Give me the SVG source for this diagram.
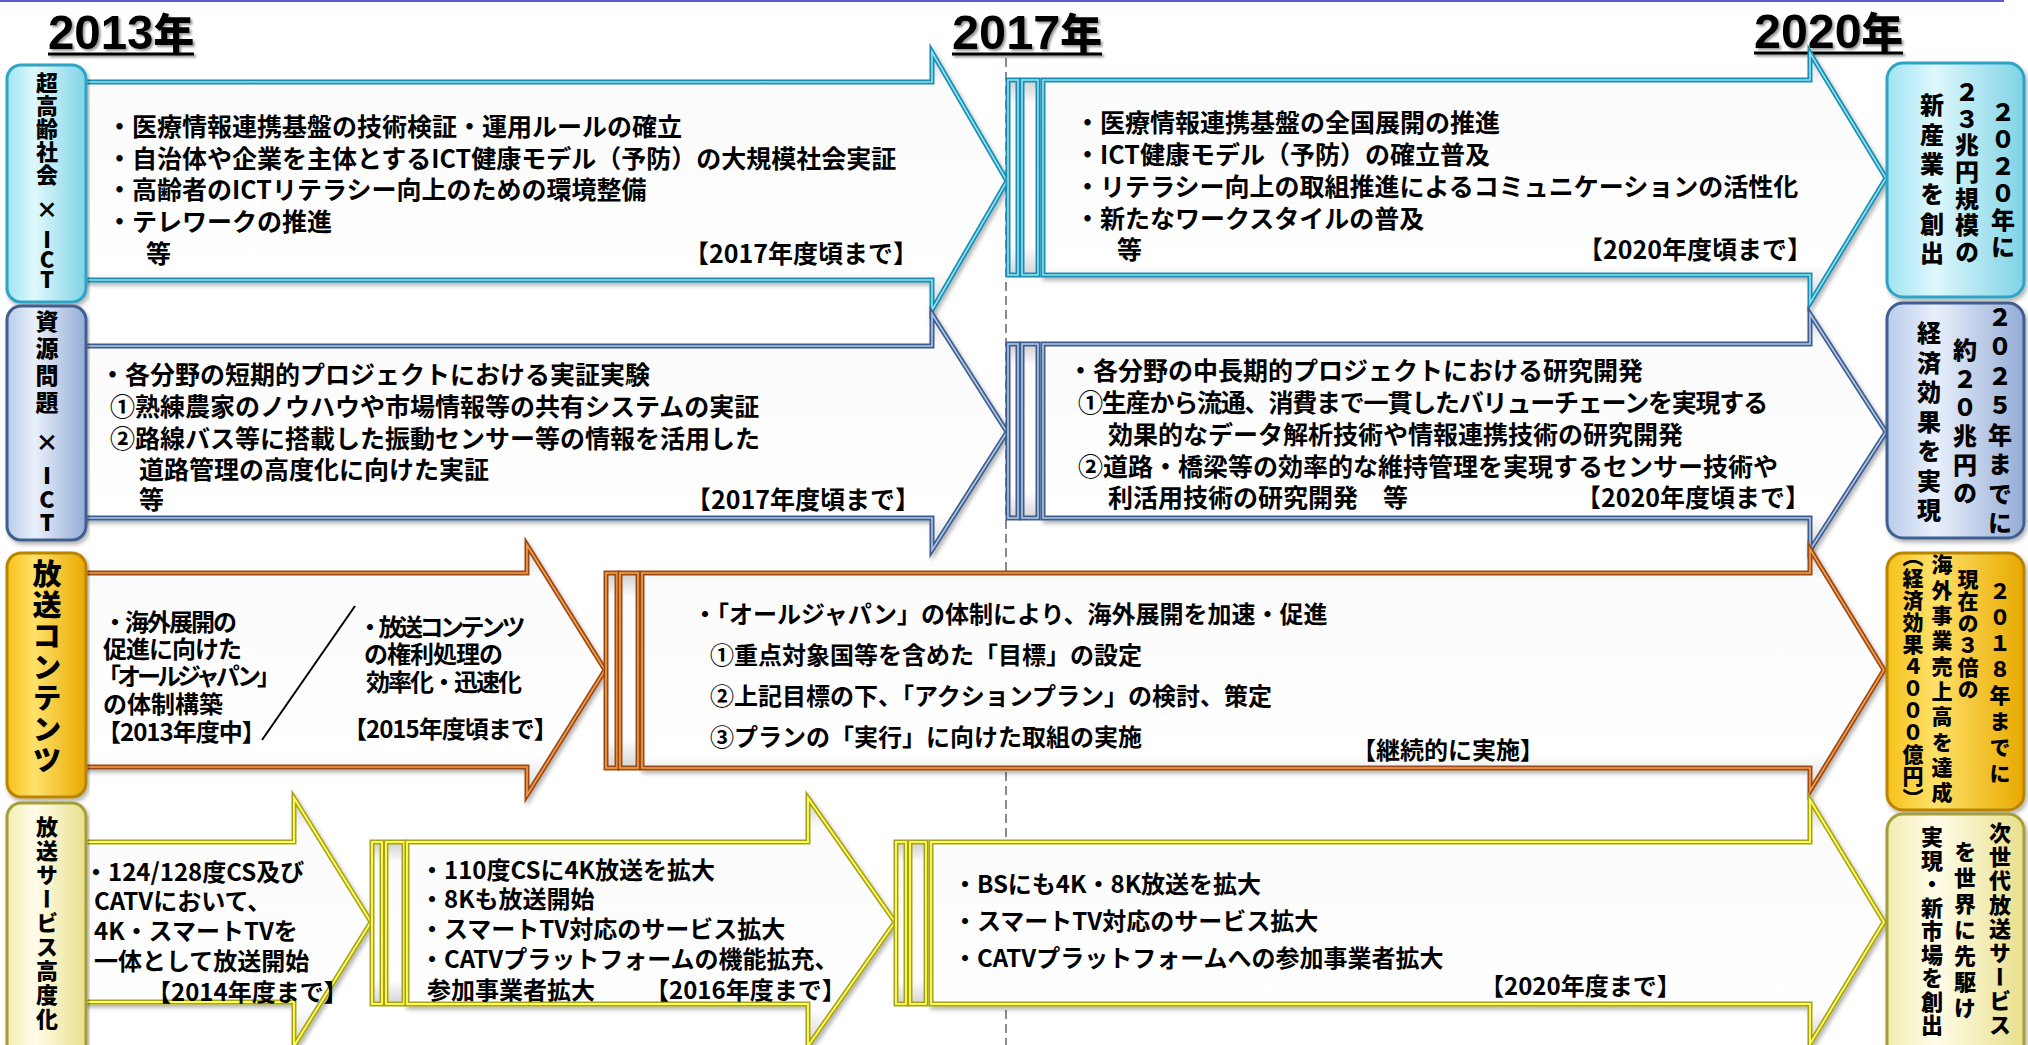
<svg xmlns="http://www.w3.org/2000/svg" width="2028" height="1045" viewBox="0 0 2028 1045">
<defs>
<style>
.t{font-family:"Noto Sans CJK JP","Noto Sans CJK SC",sans-serif;font-weight:700;fill:#000;dominant-baseline:central;}
.e{text-anchor:end;}
.v{font-family:"Noto Sans CJK JP","Noto Sans CJK SC",sans-serif;font-weight:900;fill:#000;writing-mode:vertical-rl;text-orientation:upright;}
.yr{font-family:"Liberation Sans","Noto Sans CJK JP",sans-serif;font-weight:700;font-size:49px;fill:#000;}
.yk{font-family:"Noto Sans CJK JP","Noto Sans CJK SC",sans-serif;font-weight:900;font-size:42px;}
.ul{stroke:#000;stroke-width:3;}
.body{fill:url(#gBody);}
.c1o{stroke:#1b8db2;stroke-width:5;}
.c1i{fill:none;stroke:#8ee3f4;stroke-width:1.6;}
.c2o{stroke:#3d5d8e;stroke-width:5;}
.c2i{fill:none;stroke:#b3c7e6;stroke-width:1.6;}
.c3o{stroke:#9b4a14;stroke-width:5;}
.c3i{fill:none;stroke:#f5a04c;stroke-width:1.6;}
.c4o{stroke:#a7a21c;stroke-width:5;}
.c4i{fill:none;stroke:#ffff59;stroke-width:1.8;}
.b1{fill:url(#g1);stroke:#2ea3c4;stroke-width:3;}
.b2{fill:url(#g2);stroke:#3f5f90;stroke-width:3;}
.b3{fill:url(#g3);stroke:#b98400;stroke-width:3;}
.b4{fill:url(#g4);stroke:#a59e3a;stroke-width:3;}
</style>
<linearGradient id="gBody" x1="0" y1="0" x2="0" y2="1">
<stop offset="0" stop-color="#cfcfcf"/><stop offset="0.12" stop-color="#fbfbfb"/><stop offset="0.85" stop-color="#ffffff"/><stop offset="1" stop-color="#d4d4d4"/>
</linearGradient>
<linearGradient id="g1" x1="0" y1="0" x2="1" y2="0">
<stop offset="0" stop-color="#9fe4f2"/><stop offset="0.35" stop-color="#dff8fc"/><stop offset="1" stop-color="#7fd3e6"/>
</linearGradient>
<linearGradient id="g2" x1="0" y1="0" x2="1" y2="0">
<stop offset="0" stop-color="#b9cceb"/><stop offset="0.35" stop-color="#e9f0fb"/><stop offset="1" stop-color="#94acd6"/>
</linearGradient>
<linearGradient id="g3" x1="0" y1="0" x2="1" y2="0">
<stop offset="0" stop-color="#f7c21a"/><stop offset="0.35" stop-color="#ffe16a"/><stop offset="1" stop-color="#e8a900"/>
</linearGradient>
<linearGradient id="g4" x1="0" y1="0" x2="1" y2="0">
<stop offset="0" stop-color="#f3ecb0"/><stop offset="0.35" stop-color="#fffdea"/><stop offset="1" stop-color="#e9df8c"/>
</linearGradient>
<filter id="sh" x="-5%" y="-5%" width="110%" height="115%">
<feDropShadow dx="2" dy="3" stdDeviation="2" flood-color="#000" flood-opacity="0.3"/>
</filter>
<filter id="tsh" x="-5%" y="-10%" width="110%" height="130%">
<feDropShadow dx="2" dy="2" stdDeviation="1" flood-color="#000" flood-opacity="0.4"/>
</filter>
</defs>

<rect x="0" y="0" width="2028" height="1045" fill="#ffffff"/>

<g id="guides">
<line x1="0" y1="1" x2="2004" y2="1" stroke="#5b5bd6" stroke-width="2"/>
<line x1="1006" y1="58" x2="1006" y2="1045" stroke="#8a8a8a" stroke-width="2" stroke-dasharray="9,5"/>
</g>

<g id="years" filter="url(#tsh)">
<text class="yr" x="48" y="49" textLength="146" lengthAdjust="spacingAndGlyphs">2013<tspan class="yk">年</tspan></text>
<line class="ul" x1="48" y1="54" x2="194" y2="54"/>
<text class="yr" x="952" y="49" textLength="150" lengthAdjust="spacingAndGlyphs">2017<tspan class="yk">年</tspan></text>
<line class="ul" x1="952" y1="54" x2="1102" y2="54"/>
<text class="yr" x="1754" y="48" textLength="149" lengthAdjust="spacingAndGlyphs">2020<tspan class="yk">年</tspan></text>
<line class="ul" x1="1754" y1="53" x2="1903" y2="53"/>
</g>

<!-- Row 1 -->
<g id="arrow-1a">
<path class="body c1o" filter="url(#sh)" d="M60,82 H932 V52 L1007,181 L932,310 V280 H60 Z"/>
<path class="c1i" d="M60,82 H932 V52 L1007,181 L932,310 V280 H60 Z"/>
<text class="t" font-size="25">
<tspan x="107" y="125">・医療情報連携基盤の技術検証・運用ルールの確立</tspan>
<tspan x="107" y="157">・自治体や企業を主体とするICT健康モデル（予防）の大規模社会実証</tspan>
<tspan x="107" y="188">・高齢者のICTリテラシー向上のための環境整備</tspan>
<tspan x="107" y="220">・テレワークの推進</tspan>
<tspan x="146" y="252">等</tspan>
<tspan class="e" x="918" y="252">【2017年度頃まで】</tspan>
</text>
</g>
<g id="arrow-1b">
<rect class="body c1o" x="1008" y="80" width="10" height="195"/>
<rect class="c1i" x="1008" y="80" width="10" height="195"/>
<rect class="body c1o" x="1022" y="80" width="16" height="195"/>
<rect class="c1i" x="1022" y="80" width="16" height="195"/>
<path class="body c1o" filter="url(#sh)" d="M1043,80 H1810 V53 L1886,178 L1810,303 V275 H1043 Z"/>
<path class="c1i" d="M1043,80 H1810 V53 L1886,178 L1810,303 V275 H1043 Z"/>
<text class="t" font-size="25">
<tspan x="1075" y="121">・医療情報連携基盤の全国展開の推進</tspan>
<tspan x="1075" y="153">・ICT健康モデル（予防）の確立普及</tspan>
<tspan x="1075" y="185">・リテラシー向上の取組推進によるコミュニケーションの活性化</tspan>
<tspan x="1075" y="217">・新たなワークスタイルの普及</tspan>
<tspan x="1117" y="248">等</tspan>
<tspan class="e" x="1812" y="248">【2020年度頃まで】</tspan>
</text>
</g>
<g id="label-1">
<rect class="b1" filter="url(#sh)" x="7" y="65" width="79" height="237" rx="14"/>
<text class="v" x="47" font-size="22"><tspan y="72" style="letter-spacing:1px">超高齢社会</tspan><tspan y="199">×</tspan><tspan y="229" style="letter-spacing:-2px">ICT</tspan></text>
</g>
<g id="result-1">
<rect class="b1" filter="url(#sh)" x="1887" y="63" width="137" height="234" rx="16"/>
<g class="v" font-size="24">
<text x="2003" y="100" style="letter-spacing:3px">２０２０年に</text>
<text x="1967" y="80" style="letter-spacing:2.6px">２３兆円規模の</text>
<text x="1932" y="93" style="letter-spacing:5.6px">新産業を創出</text>
</g>
</g>

<!-- Row 2 -->
<g id="arrow-2a">
<path class="body c2o" filter="url(#sh)" d="M60,346 H932 V314 L1007,432 L932,550 V518 H60 Z"/>
<path class="c2i" d="M60,346 H932 V314 L1007,432 L932,550 V518 H60 Z"/>
<text class="t" font-size="25">
<tspan x="100" y="373">・各分野の短期的プロジェクトにおける実証実験</tspan>
<tspan x="110" y="405">①熟練農家のノウハウや市場情報等の共有システムの実証</tspan>
<tspan x="110" y="437">②路線バス等に搭載した振動センサー等の情報を活用した</tspan>
<tspan x="139" y="468">道路管理の高度化に向けた実証</tspan>
<tspan x="139" y="498">等</tspan>
<tspan class="e" x="920" y="498">【2017年度頃まで】</tspan>
</text>
</g>
<g id="arrow-2b">
<rect class="body c2o" x="1008" y="344" width="10" height="174"/>
<rect class="c2i" x="1008" y="344" width="10" height="174"/>
<rect class="body c2o" x="1022" y="344" width="16" height="174"/>
<rect class="c2i" x="1022" y="344" width="16" height="174"/>
<path class="body c2o" filter="url(#sh)" d="M1043,344 H1810 V314 L1886,432 L1810,550 V518 H1043 Z"/>
<path class="c2i" d="M1043,344 H1810 V314 L1886,432 L1810,550 V518 H1043 Z"/>
<text class="t" font-size="25">
<tspan x="1068" y="369">・各分野の中長期的プロジェクトにおける研究開発</tspan>
<tspan x="1078" y="401" style="letter-spacing:-1.2px">①生産から流通、消費まで一貫したバリューチェーンを実現する</tspan>
<tspan x="1108" y="433">効果的なデータ解析技術や情報連携技術の研究開発</tspan>
<tspan x="1078" y="465">②道路・橋梁等の効率的な維持管理を実現するセンサー技術や</tspan>
<tspan x="1108" y="496">利活用技術の研究開発　等</tspan>
<tspan class="e" x="1810" y="496">【2020年度頃まで】</tspan>
</text>
</g>
<g id="label-2">
<rect class="b2" filter="url(#sh)" x="7" y="306" width="79" height="234" rx="14"/>
<text class="v" x="47" font-size="23"><tspan y="310" style="letter-spacing:4px">資源問題</tspan><tspan y="431">×</tspan><tspan y="464" style="letter-spacing:0.5px">ICT</tspan></text>
</g>
<g id="result-2">
<rect class="b2" filter="url(#sh)" x="1887" y="303" width="137" height="235" rx="16"/>
<g class="v" font-size="24">
<text x="2000" y="305" style="letter-spacing:5.4px">２０２５年までに</text>
<text x="1965" y="338" style="letter-spacing:4.6px">約２０兆円の</text>
<text x="1929" y="321" style="letter-spacing:5.5px">経済効果を実現</text>
</g>
</g>

<!-- Row 3 -->
<g id="arrow-3a">
<path class="body c3o" filter="url(#sh)" d="M60,573 H527 V545 L605,670 L527,795 V767 H60 Z"/>
<path class="c3i" d="M60,573 H527 V545 L605,670 L527,795 V767 H60 Z"/>
<line x1="355" y1="606" x2="262" y2="740" stroke="#000" stroke-width="2"/>
<text class="t" font-size="24">
<tspan x="103" y="620" style="letter-spacing:-2px">・海外展開の</tspan>
<tspan x="103" y="647" style="letter-spacing:-1px">促進に向けた</tspan>
<tspan x="97" y="674" style="letter-spacing:-4px">「オールジャパン」</tspan>
<tspan x="103" y="702">の体制構築</tspan>
<tspan x="97" y="730" style="letter-spacing:-1px">【2013年度中】</tspan>
<tspan x="358" y="625" style="letter-spacing:-3.5px">・放送コンテンツ</tspan>
<tspan x="364" y="652" style="letter-spacing:-1px">の権利処理の</tspan>
<tspan x="366" y="680" style="letter-spacing:-2px">効率化・迅速化</tspan>
<tspan x="343" y="727" style="letter-spacing:-1px">【2015年度頃まで】</tspan>
</text>
</g>
<g id="arrow-3b">
<rect class="body c3o" x="606" y="573" width="11" height="195"/>
<rect class="c3i" x="606" y="573" width="11" height="195"/>
<rect class="body c3o" x="620" y="573" width="18" height="195"/>
<rect class="c3i" x="620" y="573" width="18" height="195"/>
<path class="body c3o" filter="url(#sh)" d="M642,573 H1810 V549 L1884,670 L1810,791 V768 H642 Z"/>
<path class="c3i" d="M642,573 H1810 V549 L1884,670 L1810,791 V768 H642 Z"/>
<text class="t" font-size="24">
<tspan x="693" y="612">・「オールジャパン」の体制により、海外展開を加速・促進</tspan>
<tspan x="710" y="653">①重点対象国等を含めた「目標」の設定</tspan>
<tspan x="710" y="694">②上記目標の下、「アクションプラン」の検討、策定</tspan>
<tspan x="710" y="735">③プランの「実行」に向けた取組の実施</tspan>
<tspan x="1352" y="748">【継続的に実施】</tspan>
</text>
</g>
<g id="label-3">
<rect class="b3" filter="url(#sh)" x="7" y="553" width="79" height="244" rx="14"/>
<text class="v" x="47" y="559" font-size="29" style="letter-spacing:2px">放送コンテンツ</text>
</g>
<g id="result-3">
<rect class="b3" filter="url(#sh)" x="1887" y="553" width="137" height="257" rx="16"/>
<g class="v" font-size="21">
<text x="2000" y="581" style="letter-spacing:5px">２０１８年までに</text>
<text x="1968" y="569" style="letter-spacing:1px">現在の３倍の</text>
<text x="1942" y="554" style="letter-spacing:4.3px">海外事業売上高を達成</text>
<text x="1913" y="546" style="letter-spacing:1px">（経済効果４０００億円）</text>
</g>
</g>

<!-- Row 4 -->
<g id="arrow-4a">
<path class="body c4o" filter="url(#sh)" d="M60,842 H294 V798 L371,922 L294,1046 V1002 H60 Z"/>
<path class="c4i" d="M60,842 H294 V798 L371,922 L294,1046 V1002 H60 Z"/>
<text class="t" font-size="24">
<tspan x="84" y="870">・124/128度CS及び</tspan>
<tspan x="94" y="899">CATVにおいて、</tspan>
<tspan x="94" y="929">4K・スマートTVを</tspan>
<tspan x="94" y="959">一体として放送開始</tspan>
<tspan x="147" y="990">【2014年度まで】</tspan>
</text>
</g>
<g id="arrow-4b">
<rect class="body c4o" x="372" y="842" width="10" height="162"/>
<rect class="c4i" x="372" y="842" width="10" height="162"/>
<rect class="body c4o" x="386" y="842" width="18" height="162"/>
<rect class="c4i" x="386" y="842" width="18" height="162"/>
<path class="body c4o" filter="url(#sh)" d="M407,842 H808 V798 L895,922 L808,1046 V1004 H407 Z"/>
<path class="c4i" d="M407,842 H808 V798 L895,922 L808,1046 V1004 H407 Z"/>
<text class="t" font-size="24">
<tspan x="420" y="868">・110度CSに4K放送を拡大</tspan>
<tspan x="420" y="897">・8Kも放送開始</tspan>
<tspan x="420" y="927">・スマートTV対応のサービス拡大</tspan>
<tspan x="420" y="957">・CATVプラットフォームの機能拡充、</tspan>
<tspan x="427" y="988">参加事業者拡大</tspan>
<tspan x="645" y="988">【2016年度まで】</tspan>
</text>
</g>
<g id="arrow-4c">
<rect class="body c4o" x="896" y="842" width="10" height="162"/>
<rect class="c4i" x="896" y="842" width="10" height="162"/>
<rect class="body c4o" x="910" y="842" width="16" height="162"/>
<rect class="c4i" x="910" y="842" width="16" height="162"/>
<path class="body c4o" filter="url(#sh)" d="M931,842 H1810 V800 L1884,922 L1810,1044 V1004 H931 Z"/>
<path class="c4i" d="M931,842 H1810 V800 L1884,922 L1810,1044 V1004 H931 Z"/>
<text class="t" font-size="24">
<tspan x="953" y="882">・BSにも4K・8K放送を拡大</tspan>
<tspan x="953" y="919">・スマートTV対応のサービス拡大</tspan>
<tspan x="953" y="956">・CATVプラットフォームへの参加事業者拡大</tspan>
<tspan x="1480" y="984">【2020年度まで】</tspan>
</text>
</g>
<g id="label-4">
<rect class="b4" filter="url(#sh)" x="7" y="803" width="79" height="262" rx="14"/>
<text class="v" x="47" y="816" font-size="22" style="letter-spacing:2px">放送サービス高度化</text>
</g>
<g id="result-4">
<rect class="b4" filter="url(#sh)" x="1887" y="814" width="137" height="250" rx="16"/>
<g class="v" font-size="22">
<text x="2000" y="822" style="letter-spacing:2px">次世代放送サービス</text>
<text x="1965" y="841" style="letter-spacing:4px">を世界に先駆け</text>
<text x="1932" y="826" style="letter-spacing:1.5px">実現・新市場を創出</text>
</g>
</g>

<g id="connectors"/>
</svg>
